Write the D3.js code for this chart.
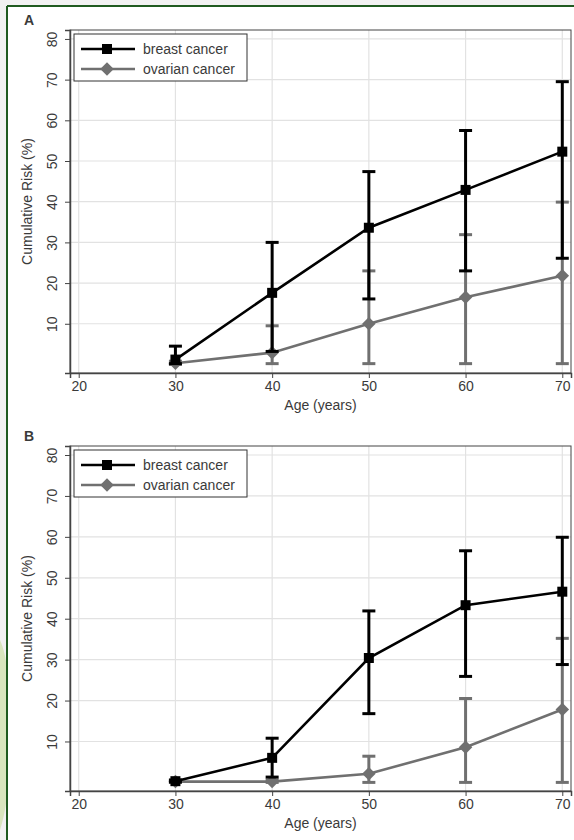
<!DOCTYPE html>
<html>
<head>
<meta charset="utf-8">
<script src="https://cdn.jsdelivr.net/npm/d3@7"></script>
<style>
body { margin: 0; background: #f1f1f1; }
svg { display: block; }
text { font-family: "Liberation Sans", Arial, sans-serif; fill: #3a3a3a; }
</style>
</head>
<body>
<div id="graph"></div>
<script>
// data
var ages = [30, 40, 50, 60, 70];
var xTicks = [20, 30, 40, 50, 60, 70];
var yTicks = [10, 20, 30, 40, 50, 60, 70, 80];
var seriesNames = ["breast cancer", "ovarian cancer"];

var breastA = [1.2, 17.6, 33.6, 42.9, 52.3];
var breastALo = [0.2, 3.2, 16.1, 23.0, 26.1];
var breastAHi = [4.5, 30.0, 47.4, 57.5, 69.5];
var ovarianA = [0.3, 2.9, 10.0, 16.5, 21.8];
var ovarianALo = [0, 0.2, 0.2, 0.2, 0.2];
var ovarianAHi = [0.8, 9.5, 23.0, 31.9, 39.9];

var breastB = [0.3, 6.0, 30.4, 43.3, 46.6];
var breastBLo = [0.1, 1.3, 16.8, 25.9, 28.8];
var breastBHi = [0.6, 10.8, 41.9, 56.6, 59.9];
var ovarianB = [0.2, 0.2, 2.1, 8.6, 17.8];
var ovarianBLo = [0, 0, 0, 0, 0];
var ovarianBHi = [0.4, 0.6, 6.4, 20.5, 35.2];

var svgWidth = 574, svgHeight = 840;
var svg = d3.select('#graph').append('svg').attr('width', svgWidth).attr('height', svgHeight);

// page frame
svg.append('path')
  .attr('d', 'M0,640 C14,670 16,780 0,830 Z')
  .attr('fill', '#cfe0a8').attr('opacity', 0.7);
svg.append('rect').attr('x', 8).attr('y', 7).attr('width', svgWidth - 8).attr('height', svgHeight - 7).attr('fill', '#fff');
svg.append('line').attr('x1', 7).attr('x2', svgWidth).attr('y1', 6).attr('y2', 6).attr('stroke', '#1f5a1f').attr('stroke-width', 2);
svg.append('line').attr('x1', 7).attr('x2', 7).attr('y1', 6).attr('y2', svgHeight).attr('stroke', '#1f5a1f').attr('stroke-width', 2);

var black = '#000', grey = '#707070';

function marker(shape, s) {
  // square, or the same square turned 45 degrees for the diamond
  if (shape === 'square') return 'M' + (-s) + ',' + (-s) + 'H' + s + 'V' + s + 'H' + (-s) + 'Z';
  var d = s * 1.35;
  return 'M0,' + (-d) + 'L' + d + ',0L0,' + d + 'L' + (-d) + ',0Z';
}

function panel(label, top, bottom, breast, bLo, bHi, ovarian, oLo, oHi) {
  var left = 70, right = 571;
  var width = right - left, height = bottom - top;
  var g = svg.append('g').attr('transform', 'translate(' + left + ',' + top + ')');

  var x = d3.scaleLinear().domain([19.1, 70.9]).range([0, width]);
  var y = d3.scaleLinear().domain([-2.1, 82.2]).range([height, 0]);

  // grid
  g.selectAll('.gx').data(xTicks).enter().append('line')
    .attr('x1', function(d) { return x(d); }).attr('x2', function(d) { return x(d); })
    .attr('y1', 0).attr('y2', height)
    .attr('stroke', '#e2e2e2').attr('stroke-width', 1.2);
  g.selectAll('.gy').data(yTicks).enter().append('line')
    .attr('y1', function(d) { return y(d); }).attr('y2', function(d) { return y(d); })
    .attr('x1', 0).attr('x2', width)
    .attr('stroke', '#e2e2e2').attr('stroke-width', 1.2);

  // plot frame
  g.append('rect').attr('width', width).attr('height', height)
    .attr('fill', 'none').attr('stroke', '#444').attr('stroke-width', 1);

  var xAxis = g.append('g').attr('transform', 'translate(0,' + height + ')')
    .call(d3.axisBottom(x).tickValues(xTicks).tickSize(5).tickPadding(3));
  xAxis.select('.domain').attr('stroke', '#444').attr('stroke-width', 1.5);
  xAxis.selectAll('.tick line').attr('stroke', '#444');
  xAxis.selectAll('text').style('font-size', '14px').attr('fill', '#3a3a3a');

  var yAxis = g.append('g').call(d3.axisLeft(y).tickValues(yTicks).tickSize(5));
  yAxis.select('.domain').attr('stroke', '#444').attr('stroke-width', 1.5);
  yAxis.selectAll('.tick line').attr('stroke', '#444');
  yAxis.selectAll('text')
    .attr('x', null).attr('dy', null)
    .attr('transform', 'translate(-18,0) rotate(-90)')
    .style('text-anchor', 'middle').attr('dy', '0.35em')
    .style('font-size', '14px').attr('fill', '#3a3a3a');

  g.append('text')
    .attr('x', width / 2).attr('y', height + 37)
    .style('text-anchor', 'middle').style('font-size', '14px')
    .text('Age (years)');

  g.append('text')
    .attr('transform', 'rotate(-90)')
    .attr('x', -height / 2).attr('y', -38)
    .style('text-anchor', 'middle').style('font-size', '14px')
    .text('Cumulative Risk (%)');

  g.append('text')
    .attr('x', -46).attr('y', -5)
    .style('font-size', '14px').style('font-weight', 'bold').attr('fill', '#111')
    .text(label);

  function drawSeries(vals, lo, hi, color, shape) {
    var pts = ages.map(function(a, i) { return {age: a, v: vals[i], lo: lo[i], hi: hi[i]}; });
    var line = d3.line()
      .x(function(d) { return x(d.age); })
      .y(function(d) { return y(d.v); });
    g.append('path').datum(pts)
      .attr('fill', 'none').attr('stroke', color).attr('stroke-width', 2.6)
      .attr('d', line);
    var eb = g.selectAll(null).data(pts).enter().append('g');
    eb.append('line')
      .attr('x1', function(d) { return x(d.age); }).attr('x2', function(d) { return x(d.age); })
      .attr('y1', function(d) { return y(d.lo); }).attr('y2', function(d) { return y(d.hi); })
      .attr('stroke', color).attr('stroke-width', 3);
    eb.append('line')
      .attr('x1', function(d) { return x(d.age) - 6.5; }).attr('x2', function(d) { return x(d.age) + 6.5; })
      .attr('y1', function(d) { return y(d.hi); }).attr('y2', function(d) { return y(d.hi); })
      .attr('stroke', color).attr('stroke-width', 3);
    eb.append('line')
      .attr('x1', function(d) { return x(d.age) - 6.5; }).attr('x2', function(d) { return x(d.age) + 6.5; })
      .attr('y1', function(d) { return y(d.lo); }).attr('y2', function(d) { return y(d.lo); })
      .attr('stroke', color).attr('stroke-width', 3);
    g.selectAll(null).data(pts).enter().append('path')
      .attr('transform', function(d) { return 'translate(' + x(d.age) + ',' + y(d.v) + ')'; })
      .attr('d', marker(shape, 5))
      .attr('fill', color);
  }

  drawSeries(ovarian, oLo, oHi, grey, 'diamond');
  drawSeries(breast, bLo, bHi, black, 'square');

  // legend
  var lg = g.append('g').attr('transform', 'translate(4,4)');
  lg.append('rect').attr('width', 173).attr('height', 47)
    .attr('fill', '#fff').attr('stroke', '#333').attr('stroke-width', 1);
  var items = [{name: seriesNames[0], color: black, shape: 'square'},
               {name: seriesNames[1], color: grey, shape: 'diamond'}];
  items.forEach(function(it, i) {
    var cy = 15 + i * 20;
    lg.append('line').attr('x1', 7).attr('x2', 61).attr('y1', cy).attr('y2', cy)
      .attr('stroke', it.color).attr('stroke-width', 2.6);
    lg.append('path').attr('transform', 'translate(33,' + cy + ')')
      .attr('d', marker(it.shape, 5)).attr('fill', it.color);
    lg.append('text').attr('x', 69).attr('y', cy).attr('dy', '0.35em')
      .style('font-size', '14px').text(it.name);
  });
}

panel('A', 30, 373, breastA, breastALo, breastAHi, ovarianA, ovarianALo, ovarianAHi);
panel('B', 446, 791, breastB, breastBLo, breastBHi, ovarianB, ovarianBLo, ovarianBHi);
</script>
</body>
</html>
